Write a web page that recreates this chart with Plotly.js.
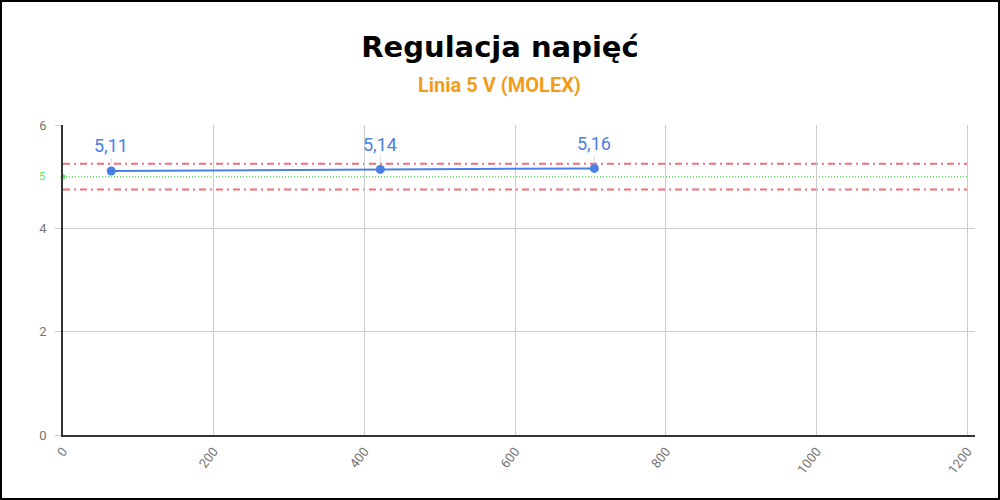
<!DOCTYPE html>
<html>
<head>
<meta charset="utf-8">
<script src="https://cdn.plot.ly/plotly-3.0.1.min.js"></script>
<style>
  html, body { margin: 0; padding: 0; background: #fff; }
  #chart { width: 1000px; height: 500px; box-sizing: border-box; border: 2px solid #000; }
</style>
</head>
<body>
<div id="chart"></div>
<script>
// Measured load points (x) and voltage on the 5 V line (y)
const loadPoints = [64, 421, 705];
const voltages = [5.11, 5.14, 5.16];

// Reference lines: nominal voltage and the +/-5% tolerance band
const nominalVoltage = 5;
const toleranceLimits = [5.25, 4.75];

const xTicks = [0, 200, 400, 600, 800, 1000, 1200];
const yTicks = [0, 2, 4, 6];

const chartTitle = 'Regulacja napięć';
const chartSubtitle = 'Linia 5 V (MOLEX)';

const blue = '#4a80e5';
const red = 'rgba(236, 96, 106, 0.9)';
const green = '#5ee35e';
const xMax = xTicks[xTicks.length - 1];

const formatValue = value => value.toFixed(2).replace('.', ',');

const measuredTrace = {
  x: loadPoints,
  y: voltages,
  mode: 'lines+markers',
  line: { color: blue, width: 2 },
  marker: { color: blue, size: 9 },
  hoverinfo: 'x+y',
};

// Small green dot where the nominal line meets the axis
const nominalDot = {
  x: [xTicks[0]],
  y: [nominalVoltage],
  mode: 'markers',
  marker: { color: green, size: 5 },
  cliponaxis: false,
  hoverinfo: 'skip',
};

const limitShapes = toleranceLimits.map(limit => ({
  type: 'line',
  xref: 'x',
  yref: 'y',
  x0: xTicks[0],
  x1: xMax,
  y0: limit,
  y1: limit,
  line: { color: red, width: 2, dash: '7px,4px,2px,4px' },
  layer: 'below',
}));

const nominalShape = {
  type: 'line',
  xref: 'x',
  yref: 'y',
  x0: xTicks[0],
  x1: xMax,
  y0: nominalVoltage,
  y1: nominalVoltage,
  line: { color: green, width: 1.5, dash: '1px,2px' },
  layer: 'below',
};

const valueLabels = loadPoints.map((x, index) => ({
  x: x,
  y: voltages[index],
  text: formatValue(voltages[index]),
  showarrow: true,
  arrowhead: 0,
  arrowwidth: 1,
  arrowcolor: 'rgba(190, 190, 190, 0.6)',
  ax: 0,
  ay: -25,
  standoff: 6,
  font: { family: 'Roboto, sans-serif', size: 18, color: blue },
}));

const nominalLabel = {
  xref: 'paper',
  yref: 'y',
  x: 0,
  y: nominalVoltage,
  xanchor: 'right',
  xshift: -16,
  text: String(nominalVoltage),
  showarrow: false,
  font: { family: 'Roboto, sans-serif', size: 11, color: green },
};

const subtitleLabel = {
  xref: 'paper',
  yref: 'paper',
  x: 0.479,
  y: 1.129,
  xanchor: 'center',
  yanchor: 'middle',
  text: '<b>' + chartSubtitle + '</b>',
  showarrow: false,
  font: { family: 'Roboto, sans-serif', size: 20, color: '#f39c1c' },
};

const layout = {
  width: 996,
  height: 496,
  margin: { l: 61, r: 23, t: 123, b: 63, pad: 0 },
  paper_bgcolor: '#fff',
  plot_bgcolor: '#fff',
  showlegend: false,
  font: { family: 'Roboto, sans-serif', color: '#757575' },
  title: {
    text: '<b>' + chartTitle + '</b>',
    x: 0.5,
    xanchor: 'center',
    y: 0.909,
    yanchor: 'middle',
    font: { family: 'DejaVu Sans, sans-serif', size: 29, color: '#000' },
  },
  xaxis: {
    range: [0, 1210],
    tickvals: xTicks,
    ticktext: xTicks.map(String),
    tickangle: -52,
    tickfont: { size: 13, color: '#757575' },
    showgrid: true,
    gridcolor: '#cccccc',
    gridwidth: 1,
    zeroline: false,
    showline: true,
    linecolor: '#333',
    linewidth: 1.5,
    ticks: '',
    ticklabelstandoff: 2,
  },
  yaxis: {
    range: [0, 6],
    tickvals: yTicks,
    ticktext: yTicks.map(String),
    tickfont: { size: 13, color: '#757575' },
    showgrid: true,
    gridcolor: '#cccccc',
    gridwidth: 1,
    zeroline: false,
    showline: true,
    linecolor: '#333',
    linewidth: 1.5,
    ticks: 'outside',
    ticklen: 6,
    tickcolor: '#cccccc',
    ticklabelstandoff: 6,
  },
  shapes: [...limitShapes, nominalShape],
  annotations: [...valueLabels, nominalLabel, subtitleLabel],
};

Plotly.newPlot('chart', [measuredTrace, nominalDot], layout, { displayModeBar: false, responsive: false });
</script>
</body>
</html>
